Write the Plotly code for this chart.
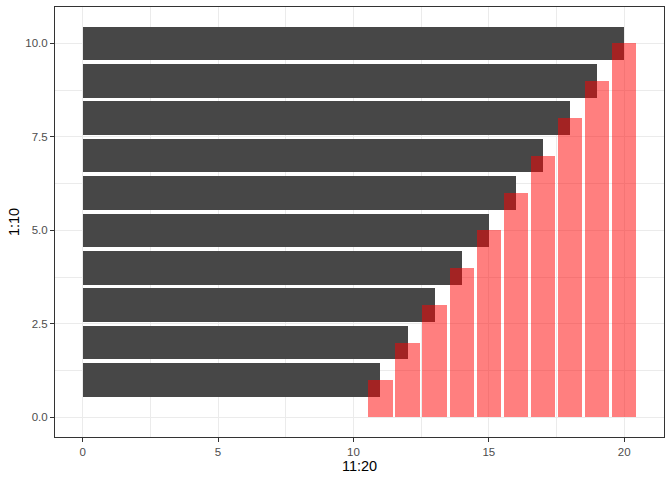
import plotly.graph_objects as go

# data: geom_col(aes(11:20, 1:10)) horizontal + vertical overlay
h_pos = [1, 2, 3, 4, 5, 6, 7, 8, 9, 10]
h_len = [11, 12, 13, 14, 15, 16, 17, 18, 19, 20]
v_pos = [11, 12, 13, 14, 15, 16, 17, 18, 19, 20]
v_len = [1, 2, 3, 4, 5, 6, 7, 8, 9, 10]

x_ticks = [0, 5, 10, 15, 20]
y_ticks = [0.0, 2.5, 5.0, 7.5, 10.0]

fig = go.Figure()

fig.add_trace(go.Bar(
    x=h_len, y=h_pos, orientation="h", width=0.9,
    marker=dict(color="#474747", line=dict(width=0)),
    hoverinfo="skip",
))
fig.add_trace(go.Bar(
    x=v_pos, y=v_len, orientation="v", width=0.9,
    marker=dict(color="rgba(255,0,0,0.5)", line=dict(width=0)),
    hoverinfo="skip",
))

axis_common = dict(
    showline=True, mirror=True, linecolor="#333333", linewidth=1.1,
    ticks="outside", ticklen=4, tickwidth=1.1, tickcolor="#333333",
    showgrid=True, gridcolor="#EBEBEB", gridwidth=1.1,
    zeroline=False,
    tickfont=dict(family="Liberation Sans", size=11.5, color="#4D4D4D"),
    automargin=False,
)

fig.update_layout(
    width=672, height=480,
    margin=dict(l=55, r=8, t=7, b=43),
    paper_bgcolor="white", plot_bgcolor="white",
    barmode="overlay", bargap=0, showlegend=False,
    font=dict(family="Liberation Sans", color="black"),
    xaxis=dict(
        range=[-1.0225, 21.4725], tickvals=x_ticks,
        ticktext=[str(v) for v in x_ticks],
        minor=dict(tickvals=[2.5, 7.5, 12.5, 17.5], showgrid=True,
                   gridcolor="#EBEBEB", gridwidth=0.55, ticks=""),
        title=dict(text="11:20", font=dict(size=14.5), standoff=4),
        **axis_common,
    ),
    yaxis=dict(
        range=[-0.5225, 10.9725], tickvals=y_ticks,
        ticktext=["%.1f" % v for v in y_ticks],
        minor=dict(tickvals=[1.25, 3.75, 6.25, 8.75], showgrid=True,
                   gridcolor="#EBEBEB", gridwidth=0.55, ticks=""),
        title=dict(text="1:10", font=dict(size=14.5), standoff=2),
        **axis_common,
    ),
)

# page body has a default 8px margin; drop it so the figure fills the window
fig.write_html("out.html", config={"displayModeBar": False},
               post_script="document.body.style.margin='0';")
